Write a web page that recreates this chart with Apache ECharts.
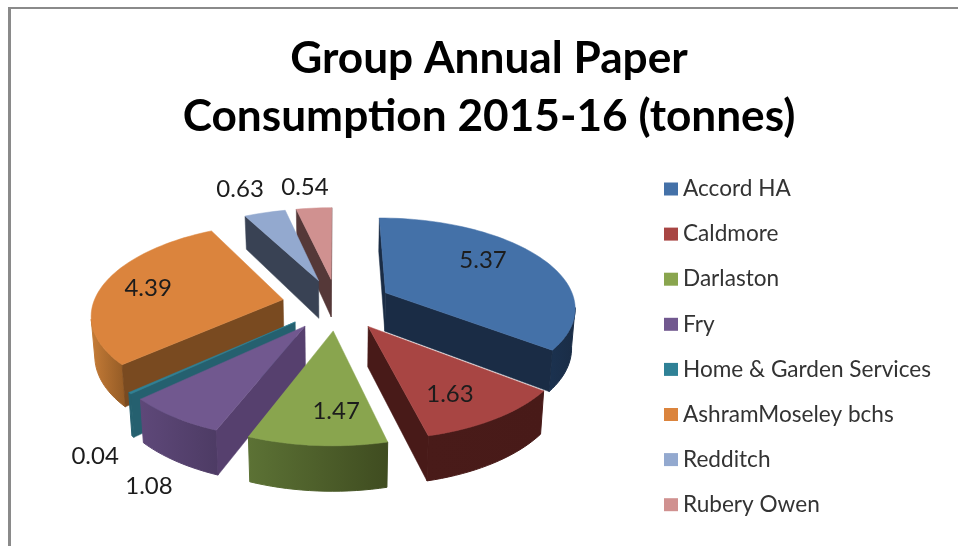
<!DOCTYPE html>
<html>
<head>
<meta charset="utf-8">
<style>html,body{margin:0;padding:0;background:#fff}#c{width:958px;height:546px}</style>
<script src="https://cdn.jsdelivr.net/npm/echarts@6/dist/echarts.min.js"></script>
</head>
<body>
<div id="c"></div>
<script>
// ---- data ----
var categories = ['Accord HA','Caldmore','Darlaston','Fry','Home & Garden Services','AshramMoseley bchs','Redditch','Rubery Owen'];
var tonnes = [5.37,1.63,1.47,1.08,0.04,4.39,0.63,0.54];
var titleLines = ['Group Annual Paper','Consumption 2015-16 (tonnes)'];
// ---- styles ----
var topColors  = ['#4471a8','#a84543','#89a54e','#71588f','#2f8196','#db843d','#93a9cf','#d09190'];
var sideColors = ['#1a2c45','#481a18','#4a5a28','#56406e','#25606f','#794a20','#394254','#553838'];
var arcFrom    = ['#1b3250','#491b19','#5c7235','#5e4879','#25606f','#c67c37','#394254','#553838'];
var arcTo      = ['#1a2c45','#481a18','#3f4c20','#4d3b64','#25606f','#925a25','#394254','#553838'];
// label placement: distance (in pie radii) and bearing (deg) from each slice's own centre
var labelRadius = [0.698,0.731,0.732,1.457,1.417,0.748,1.427,1.357];
var labelBearing = [54.6,150.6,178.8,204.2,214.5,280.4,338.2,352.5];

// ---- projection of the tilted pie ----
var CX = 337, CY = 304, RX = 190, RY = 89, PERSP = 0.148, EXPLODE = 0.29;
function project(u, v) { var w = 1 - PERSP * v; return [CX + RX * u / w, CY + RY * v / w]; }
function wallHeight(v) { return 39 + 5 * v; }
function below(u, v) { var p = project(u, v); return [CX + (p[0] - CX) * 0.985, p[1] + wallHeight(v)]; }
function rad(d) { return d * Math.PI / 180; }

var total = tonnes.reduce(function (a, b) { return a + b; }, 0);
var slices = [], acc = 0;
tonnes.forEach(function (t) {
  var a0 = acc / total * 360; acc += t; var a1 = acc / total * 360;
  var mid = rad((a0 + a1) / 2);
  slices.push({ a0: a0, a1: a1, ou: EXPLODE * Math.sin(mid), ov: -EXPLODE * Math.cos(mid), depth: -Math.cos(mid) });
});
var rank = slices.map(function (s, i) { return i; }).sort(function (a, b) { return slices[a].depth - slices[b].depth; });

function renderSlice(i) {
  return function () {
    var s = slices[i], uv = [];
    uv.push([s.ou, s.ov]);
    var steps = Math.max(2, Math.ceil((s.a1 - s.a0) / 2));
    for (var k = 0; k <= steps; k++) {
      var a = rad(s.a0 + (s.a1 - s.a0) * k / steps);
      uv.push([s.ou + Math.sin(a), s.ov - Math.cos(a)]);
    }
    var topPts = uv.map(function (p) { return project(p[0], p[1]); });
    var kids = [];
    function quad(a, b, fill) {
      return { type: 'polygon', shape: { points: [project(a[0], a[1]), project(b[0], b[1]), below(b[0], b[1]), below(a[0], a[1])] },
               style: { fill: fill, stroke: fill, lineWidth: 0.5 } };
    }
    // walls that face the viewer: the top outline runs leftwards above them
    var n = uv.length;
    var upper = [], lower = [];
    for (k = 1; k < n; k++) {
      if (k < n - 1 && topPts[k + 1][0] >= topPts[k][0] && upper.length) break;
      if (k < n - 1 && topPts[k + 1][0] >= topPts[k][0]) continue;
      upper.push(topPts[k]); lower.unshift(below(uv[k][0], uv[k][1]));
    }
    if (upper.length > 1) {
      var grad = { type: 'linear', x: 1, y: 0, x2: 0, y2: 0, colorStops: [
          { offset: 0, color: arcTo[i] }, { offset: 1, color: arcFrom[i] }] };
      kids.push({ type: 'polygon', shape: { points: upper.concat(lower) },
        style: { fill: grad, stroke: grad, lineWidth: 1 } });
    }
    if (topPts[1][0] < topPts[0][0]) kids.push(quad(uv[0], uv[1], sideColors[i]));
    if (topPts[0][0] < topPts[n - 1][0]) kids.push(quad(uv[n - 1], uv[0], sideColors[i]));
    kids.push({ type: 'polygon', shape: { points: topPts }, style: { fill: topColors[i], stroke: topColors[i], lineWidth: 0.5 } });
    var b = rad(labelBearing[i]);
    var lp = project(s.ou + labelRadius[i] * Math.sin(b), s.ov - labelRadius[i] * Math.cos(b));
    kids.push({ type: 'text', x: lp[0], y: lp[1], z2: 50, style: {
      text: tonnes[i].toFixed(2), fill: '#1c1c1c', font: '24px Lato', align: 'center', verticalAlign: 'middle' } });
    return { type: 'group', children: kids };
  };
}

var chart = echarts.init(document.getElementById('c'), null, { renderer: 'canvas' });
chart.setOption({
  animation: false,
  backgroundColor: '#ffffff',
  title: { text: titleLines.join('\n'), left: 484, top: 25, textAlign: 'center',
           textStyle: { fontFamily: 'Lato', fontWeight: 'bold', fontSize: 44.2, lineHeight: 58, color: '#000000' } },
  legend: { orient: 'vertical', left: 659, top: 172, icon: 'rect', itemWidth: 14, itemHeight: 13, itemGap: 21.1, selectedMode: false,
            data: categories, textStyle: { fontFamily: 'Lato', fontSize: 22.6, lineHeight: 24, color: '#333333' } },
  graphic: [
    { type: 'line', silent: true, shape: { x1: 9, y1: 8, x2: 958, y2: 8 }, style: { stroke: '#8a8a8a', lineWidth: 2 } },
    { type: 'line', silent: true, shape: { x1: 9.5, y1: 7, x2: 9.5, y2: 546 }, style: { stroke: '#8a8a8a', lineWidth: 3 } }
  ],
  series: categories.map(function (name, i) {
    return { type: 'custom', name: name, coordinateSystem: 'none', silent: true, z: 2 + rank.indexOf(i),
             itemStyle: { color: topColors[i] }, data: [[tonnes[i]]], renderItem: renderSlice(i) };
  })
});
</script>
</body>
</html>
